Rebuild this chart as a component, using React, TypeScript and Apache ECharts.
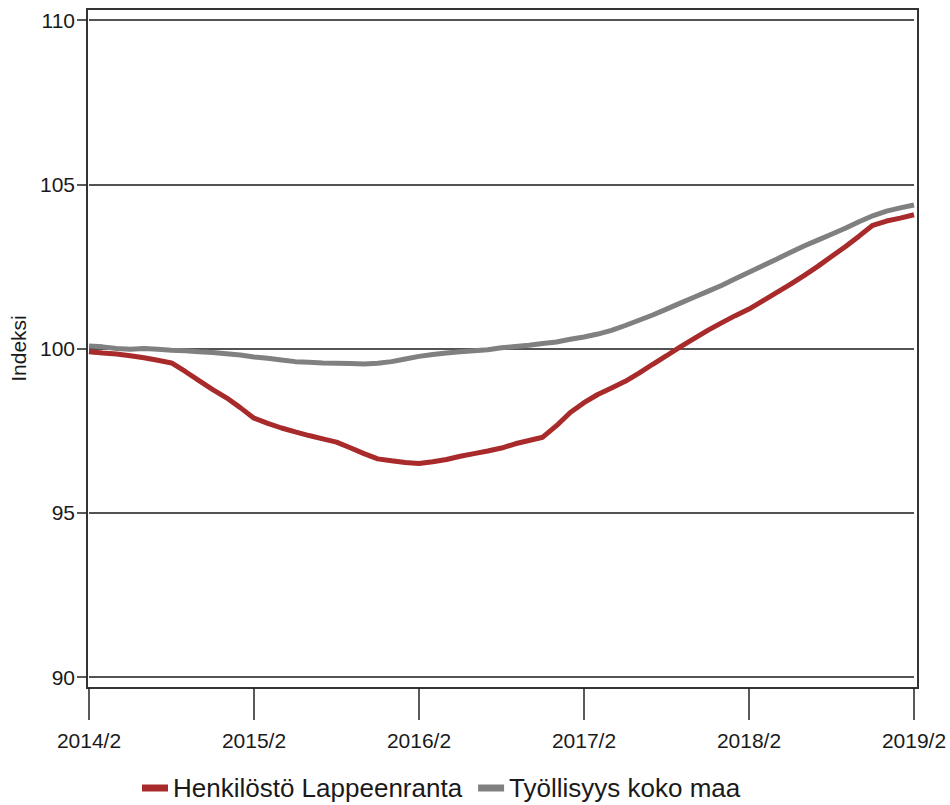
import React, { useEffect, useRef } from "react";
import * as echarts from "echarts";

const months: string[] = [];
for (let y = 2014; y <= 2019; y++) {
  for (let m = 1; m <= 12; m++) {
    if ((y === 2014 && m < 2) || (y === 2019 && m > 2)) continue;
    months.push(`${y}/${m}`);
  }
}

const lappeenranta = [
  99.9, 99.86, 99.83, 99.78, 99.72, 99.64, 99.56, 99.3, 99.02, 98.75,
  98.5, 98.2, 97.88, 97.72, 97.58, 97.46, 97.35, 97.25, 97.15, 96.98,
  96.8, 96.64, 96.58, 96.53, 96.5, 96.55, 96.62, 96.72, 96.8, 96.88,
  96.97, 97.1, 97.2, 97.3, 97.65, 98.05, 98.35, 98.6, 98.8, 99.0,
  99.25, 99.52, 99.78, 100.05, 100.3, 100.55, 100.78, 101.0, 101.2, 101.45,
  101.7, 101.95, 102.22, 102.5, 102.8, 103.1, 103.42, 103.75, 103.88, 103.97,
  104.07,
];

const kokoMaa = [
  100.08, 100.05, 100.0, 99.98, 100.0, 99.98, 99.95, 99.93, 99.9, 99.88,
  99.84, 99.8, 99.74, 99.7, 99.65, 99.6, 99.58, 99.56, 99.55, 99.54,
  99.53, 99.55, 99.6, 99.68, 99.76, 99.82, 99.86, 99.9, 99.93, 99.96,
  100.02, 100.06, 100.1, 100.15, 100.2, 100.28, 100.35, 100.44, 100.55, 100.7,
  100.86, 101.02, 101.2, 101.38, 101.56, 101.74, 101.92, 102.12, 102.32, 102.52,
  102.72, 102.92, 103.12, 103.3, 103.48, 103.66, 103.86, 104.04, 104.18, 104.28,
  104.37,
];

const seriesNames = ["Henkilöstö Lappeenranta", "Työllisyys koko maa"];
const yTicks = { min: 90, max: 110, interval: 5 };

export default function App() {
  const ref = useRef<HTMLDivElement>(null);
  useEffect(() => {
    if (!ref.current) return;
    const chart = echarts.init(ref.current, undefined, { renderer: "svg" });
    const font = "'Liberation Sans', Arial, sans-serif";
    chart.setOption({
      animation: false,
      backgroundColor: "#ffffff",
      textStyle: { fontFamily: font },
      grid: { left: 89, right: 36, top: 20, bottom: 128 },
      legend: {
        left: 137,
        top: 768,
        itemWidth: 26,
        itemHeight: 7,
        itemGap: 16,
        icon: "rect",
        textStyle: { fontSize: 26, color: "#1a1a1a", fontFamily: font, lineHeight: 30 },
        data: seriesNames,
      },
      xAxis: {
        type: "category",
        boundaryGap: false,
        data: months,
        offset: 11,
        axisLine: { show: false },
        axisTick: { show: true, length: 32, interval: 11, lineStyle: { color: "#222", width: 1.5 } },
        axisLabel: {
          interval: 11,
          margin: 42,
          fontSize: 21,
          color: "#1a1a1a",
          fontFamily: font,
        },
        splitLine: { show: false },
      },
      yAxis: {
        type: "value",
        min: yTicks.min,
        max: yTicks.max,
        interval: yTicks.interval,
        offset: 2,
        name: "Indeksi",
        nameLocation: "middle",
        nameRotate: 90,
        nameGap: 58,
        nameTextStyle: { fontSize: 21, color: "#1a1a1a", fontFamily: font },
        axisLine: { show: false },
        axisTick: { show: true, length: 10, lineStyle: { color: "#222", width: 1.5 } },
        axisLabel: { margin: 12, fontSize: 21, color: "#1a1a1a", fontFamily: font },
        splitLine: { show: true, lineStyle: { color: "#1a1a1a", width: 1.5 } },
      },
      graphic: [
        {
          type: "rect",
          shape: { x: 87, y: 9, width: 831, height: 679 },
          style: { fill: "none", stroke: "#333", lineWidth: 2 },
          z: 0,
        },
      ],
      series: [
        {
          name: seriesNames[0],
          type: "line",
          data: lappeenranta,
          showSymbol: false,
          color: "#a82a2a",
          lineStyle: { width: 5, color: "#a82a2a" },
          z: 3,
        },
        {
          name: seriesNames[1],
          type: "line",
          data: kokoMaa,
          showSymbol: false,
          color: "#808080",
          lineStyle: { width: 5, color: "#808080" },
          z: 2,
        },
      ],
    });
    return () => chart.dispose();
  }, []);
  return (
    <div
      ref={ref}
      style={{ position: "fixed", left: 0, top: 0, width: 950, height: 805 }}
    />
  );
}
